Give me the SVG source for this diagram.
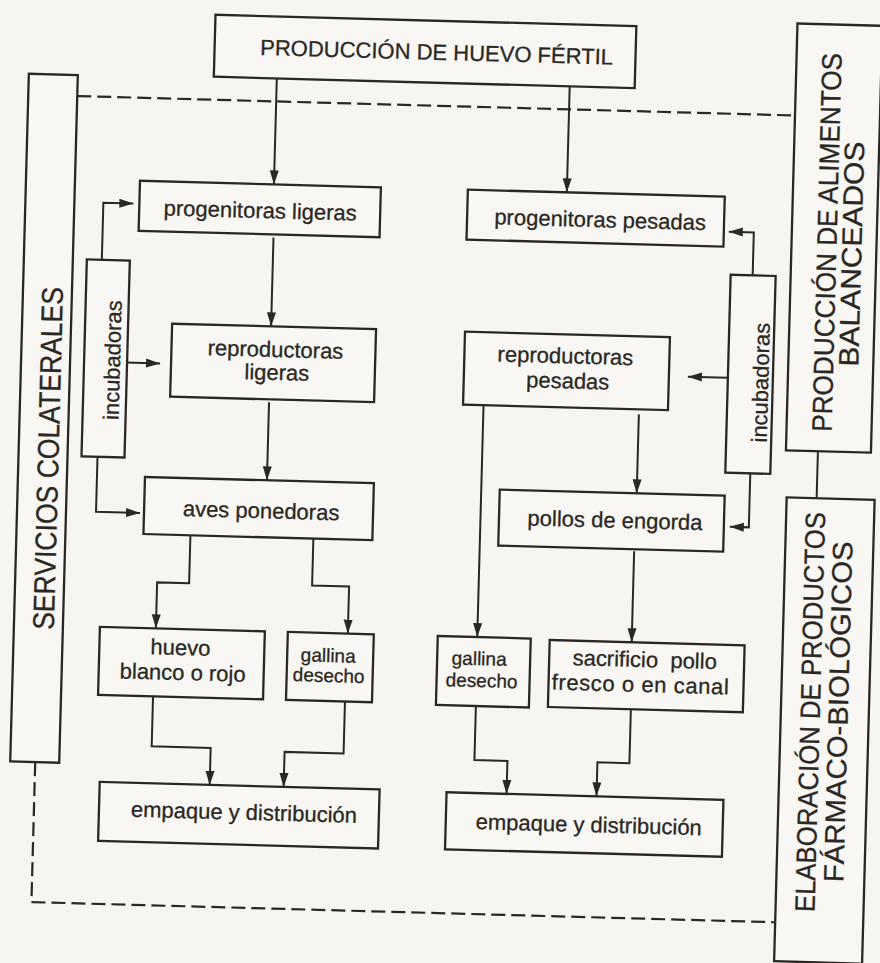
<svg xmlns="http://www.w3.org/2000/svg" width="880" height="963" viewBox="0 0 880 963">
<style>
.box{fill:#f8f7f3;stroke:#2b2724;stroke-width:2.3}
.ln{fill:none;stroke:#2b2724;stroke-width:2}
.dash{fill:none;stroke:#2b2724;stroke-width:2.2;stroke-dasharray:14 6}
.t{font-family:"Liberation Sans",Arial,sans-serif;font-size:22px;fill:#2b2723;stroke:#2b2723;stroke-width:0.3;text-anchor:middle}
.s{font-size:19px}
.v{font-size:28px}
.vb{font-size:30px}
</style>
<defs>
<marker id="ah" markerUnits="userSpaceOnUse" markerWidth="15" markerHeight="10" refX="14" refY="5" orient="auto">
<path d="M0,0.5 L14,5 L0,9.5 z" fill="#2b2724"/>
</marker>
</defs>
<rect x="0" y="0" width="880" height="963" fill="#f6f5f0"/>
<g transform="rotate(1.55 440 480)">
<g id="connectors">
<path class="ln" d="M266,83 V189" marker-end="url(#ah)"/>
<path class="ln" d="M559,83 V189" marker-end="url(#ah)"/>
<path class="ln" d="M267,242 V331" marker-end="url(#ah)"/>
<path class="ln" d="M267,407 V485" marker-end="url(#ah)"/>
<path class="ln" d="M192,542 V590 H160 V636" marker-end="url(#ah)"/>
<path class="ln" d="M315,542 V589 H352 V636" marker-end="url(#ah)"/>
<path class="ln" d="M159,704 V754 H218 V791" marker-end="url(#ah)"/>
<path class="ln" d="M351,704 V756 H292 V791" marker-end="url(#ah)"/>
<path class="ln" d="M96,269 V212 H126" marker-end="url(#ah)"/>
<path class="ln" d="M124,371 H157" marker-end="url(#ah)"/>
<path class="ln" d="M97,466 V521 H141" marker-end="url(#ah)"/>
<path class="ln" d="M747,267 V224 H722" marker-end="url(#ah)"/>
<path class="ln" d="M725,370 H685" marker-end="url(#ah)"/>
<path class="ln" d="M750,465 V519 H731" marker-end="url(#ah)"/>
<path class="ln" d="M637,409 V488" marker-end="url(#ah)"/>
<path class="ln" d="M481.5,404 V636" marker-end="url(#ah)"/>
<path class="ln" d="M636,546 V637" marker-end="url(#ah)"/>
<path class="ln" d="M482,705 V759 H515 V792" marker-end="url(#ah)"/>
<path class="ln" d="M637,704 V758 H605 V792" marker-end="url(#ah)"/>
<path class="ln" d="M817,441 V488"/>
<path class="dash" d="M67,106 H785"/>
<path class="dash" d="M43,773 V913 H787"/>
</g>
<g id="n_top"><rect class="box" x="203" y="21" width="421" height="62"/><text class="t" x="425" y="60">PRODUCCIÓN DE HUEVO FÉRTIL</text></g>
<g id="n_servicios"><rect class="box" x="18" y="85" width="49" height="688"/><text class="t vb" transform="translate(58,469) rotate(-90)" textLength="343" lengthAdjust="spacingAndGlyphs">SERVICIOS COLATERALES</text></g>
<g id="n_alimentos"><rect class="box" x="785" y="14" width="85" height="427"/><text class="t v" transform="translate(830,232) rotate(-90)" textLength="379" lengthAdjust="spacingAndGlyphs">PRODUCCIÓN DE ALIMENTOS</text><text class="t v" transform="translate(855,243) rotate(-90)" textLength="225" lengthAdjust="spacingAndGlyphs">BALANCEADOS</text></g>
<g id="n_elaboracion"><rect class="box" x="787" y="488" width="88" height="464"/><text class="t v" transform="translate(826,702) rotate(-90)" textLength="400" lengthAdjust="spacingAndGlyphs">ELABORACIÓN DE PRODUCTOS</text><text class="t v" transform="translate(854,701) rotate(-90)" textLength="341" lengthAdjust="spacingAndGlyphs">FÁRMACO-BIOLÓGICOS</text></g>
<g id="n_prog_ligeras"><rect class="box" x="132" y="189" width="241" height="50"/><text class="t" x="253" y="223">progenitoras ligeras</text></g>
<g id="n_prog_pesadas"><rect class="box" x="460" y="189" width="257" height="50"/><text class="t" x="593" y="223">progenitoras pesadas</text></g>
<g id="n_rep_ligeras"><rect class="box" x="168" y="331" width="204" height="73"/><text class="t" x="272" y="361.5">reproductoras</text><text class="t" x="274" y="384.5">ligeras</text></g>
<g id="n_rep_pesadas"><rect class="box" x="461" y="331" width="205" height="73"/><text class="t" x="562" y="360">reproductoras</text><text class="t" x="565" y="385">pesadas</text></g>
<g id="n_aves"><rect class="box" x="145" y="485" width="229" height="57"/><text class="t" x="262" y="523">aves ponedoras</text></g>
<g id="n_pollos"><rect class="box" x="500" y="488" width="225" height="56"/><text class="t" x="616" y="523">pollos de engorda</text></g>
<g id="n_incub_l"><rect class="box" x="81" y="269" width="43" height="197"/><text class="t" transform="translate(117,369) rotate(-90)">incubadoras</text></g>
<g id="n_incub_r"><rect class="box" x="725" y="267" width="45" height="198"/><text class="t" transform="translate(765.5,374) rotate(-90)">incubadoras</text></g>
<g id="n_huevo"><rect class="box" x="104" y="636" width="165" height="68"/><text class="t" x="185" y="662">huevo</text><text class="t" x="188" y="687">blanco o rojo</text></g>
<g id="n_gallina_l"><rect class="box" x="292" y="636" width="86" height="68"/><text class="t s" x="333" y="665">gallina</text><text class="t s" x="334" y="685">desecho</text></g>
<g id="n_gallina_r"><rect class="box" x="442" y="636" width="93" height="69"/><text class="t s" x="484" y="664">gallina</text><text class="t s" x="487" y="686">desecho</text></g>
<g id="n_sacrificio"><rect class="box" x="554" y="637" width="195" height="67"/><text class="t" x="649.5" y="661.5" xml:space="preserve">sacrificio  pollo</text><text class="t" x="646" y="686.5" letter-spacing="0.6">fresco o en canal</text></g>
<g id="n_empaque_l"><rect class="box" x="108" y="791" width="280" height="59"/><text class="t" x="253" y="825">empaque y distribución</text></g>
<g id="n_empaque_r"><rect class="box" x="455" y="792" width="277" height="57"/><text class="t" x="598" y="828">empaque y distribución</text></g>
</g>
</svg>
